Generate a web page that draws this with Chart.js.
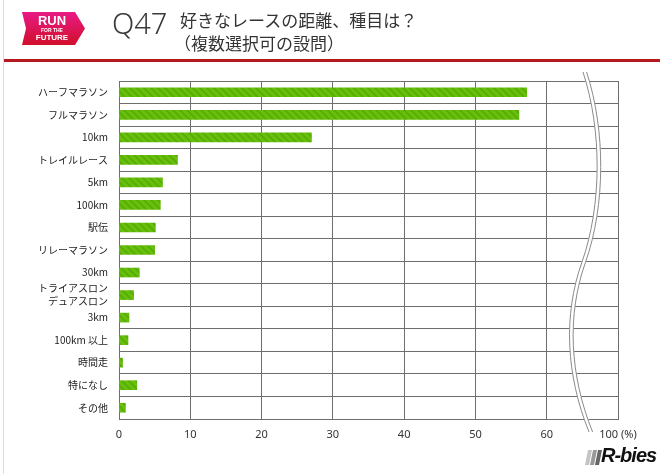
<!DOCTYPE html>
<html><head><meta charset="utf-8">
<script src="https://cdn.jsdelivr.net/npm/chart.js@4/dist/chart.umd.min.js"></script>
<style>
html,body{margin:0;padding:0;background:#fff;}
#wrap{position:relative;width:660px;height:474px;overflow:hidden;font-family:"Noto Sans CJK JP","Noto Sans",sans-serif;}
#c{position:absolute;left:0;top:0;}
.lborder{position:absolute;left:3px;top:0;width:1px;height:474px;background:#ddd;}
.redline{position:absolute;left:4px;top:59px;width:656px;height:3px;background:#b5191f;}
.q{position:absolute;left:112px;top:3px;font-family:"Noto Sans","Open Sans",sans-serif;font-size:29px;color:#3a3a3a;font-weight:300;}
.t1{position:absolute;left:180px;top:7px;font-size:17px;color:#333;white-space:nowrap;}
.t2{position:absolute;left:174px;top:30px;font-size:17px;color:#333;white-space:nowrap;}
.badge{position:absolute;left:22px;top:12px;}
.rb{position:absolute;left:585px;top:450px;}
.rbt{position:absolute;left:601px;top:444px;font-family:"Liberation Sans","Noto Sans",sans-serif;font-size:20px;font-weight:bold;font-style:italic;color:#111;letter-spacing:-1px;}
</style></head>
<body><div id="wrap">
<canvas id="c" width="660" height="474"></canvas>
<div class="lborder"></div>
<div class="redline"></div>
<svg class="badge" width="64" height="33" viewBox="0 0 64 33">
<defs><linearGradient id="g" x1="0" y1="0" x2="0" y2="1"><stop offset="0" stop-color="#e81a86"/><stop offset="1" stop-color="#d10f2a"/></linearGradient></defs>
<polygon points="0,0 53,0 63,16.5 53,33 0,33 4,16.5" fill="url(#g)"/>
<text x="30" y="13" text-anchor="middle" font-family="Liberation Sans, sans-serif" font-weight="bold" font-size="13" fill="#fff">RUN</text>
<text x="30" y="20" text-anchor="middle" font-family="Liberation Sans, sans-serif" font-weight="bold" font-size="5" fill="#fff">FOR THE</text>
<text x="30" y="28" text-anchor="middle" font-family="Liberation Sans, sans-serif" font-weight="bold" font-size="8" fill="#fff">FUTURE</text>
</svg>
<div class="q">Q47</div>
<div class="t1">好きなレースの距離、種目は？</div>
<div class="t2">（複数選択可の設問）</div>
<svg class="rb" width="17" height="15" viewBox="0 0 17 15">
<defs><linearGradient id="rg" x1="0" y1="0" x2="1" y2="0"><stop offset="0" stop-color="#ccc"/><stop offset="1" stop-color="#555"/></linearGradient></defs>
<polygon points="3,0 7,0 4,15 0,15" fill="#c4c4c4"/>
<polygon points="8,0 12,0 9,15 5,15" fill="#999"/>
<polygon points="13,0 17,0 14,15 10,15" fill="#666"/>
</svg>
<div class="rbt">R-bies</div>
</div>
<script>
const categories = ["ハーフマラソン","フルマラソン","10km","トレイルレース","5km","100km","駅伝","リレーマラソン","30km",["トライアスロン","デュアスロン"],"3km","100km 以上","時間走","特になし","その他"];
const values = [57.2,56.1,27.0,8.2,6.1,5.8,5.1,5.0,2.85,2.05,1.4,1.26,0.5,2.5,0.9];
const xTicks = [0,10,20,30,40,50,60,70];
const xTickLabels = ["0","10","20","30","40","50","60","100 (%)"];

function hatch(){
  const p=document.createElement('canvas');p.width=7;p.height=7;
  const g=p.getContext('2d');
  g.fillStyle='#66bf08';g.fillRect(0,0,7,7);
  g.strokeStyle='#56a808';g.lineWidth=1.5;
  g.beginPath();g.moveTo(-1,-1);g.lineTo(8,8);g.moveTo(-8,-1);g.lineTo(1,8);g.moveTo(6,-1);g.lineTo(15,8);g.stroke();
  return g.createPattern(p,'repeat');
}
const ctx=document.getElementById('c').getContext('2d');

const breakPlugin={id:'brk',afterDraw(chart){
  const c=chart.ctx;
  function path(dx){
    c.beginPath();
    c.moveTo(583+dx,72);
    c.bezierCurveTo(602+dx,130,602+dx,205,582+dx,262);
    c.bezierCurveTo(563+dx,315,566+dx,375,589+dx,432);
  }
  c.save();
  c.strokeStyle='#fff';c.lineWidth=4;path(1.8);c.stroke();
  c.strokeStyle='#8a8a8a';c.lineWidth=1;path(0);c.stroke();path(3.6);c.stroke();
  c.restore();
}};

new Chart(ctx,{
  type:'bar',
  data:{labels:categories,datasets:[{data:values,backgroundColor:hatch(),borderWidth:0,barThickness:9}]},
  options:{
    indexAxis:'y',responsive:false,animation:false,
    layout:{padding:{left:0,top:81,right:42,bottom:25}},
    plugins:{legend:{display:false},tooltip:{enabled:false}},
    scales:{
      x:{min:0,max:70,
        afterBuildTicks(s){s.ticks=xTicks.map(v=>({value:v}));},
        afterFit(s){s.height=30;},
        ticks:{padding:9,color:'#333',font:{family:'"Noto Sans", sans-serif',size:11},callback:(v,i)=>xTickLabels[i]},
        grid:{color:'#6e6e6e',lineWidth:1,drawTicks:false},
        border:{color:'#6e6e6e'}},
      y:{
        afterFit(s){s.width=119;},
        ticks:{padding:11,color:'#222',font:{family:'"Noto Sans CJK JP", sans-serif',size:10,lineHeight:1.3},autoSkip:false},
        grid:{color:'#6e6e6e',lineWidth:1,drawTicks:false,offset:true},
        border:{color:'#6e6e6e'}}
    }
  },
  plugins:[breakPlugin]
});
</script>
</body></html>
